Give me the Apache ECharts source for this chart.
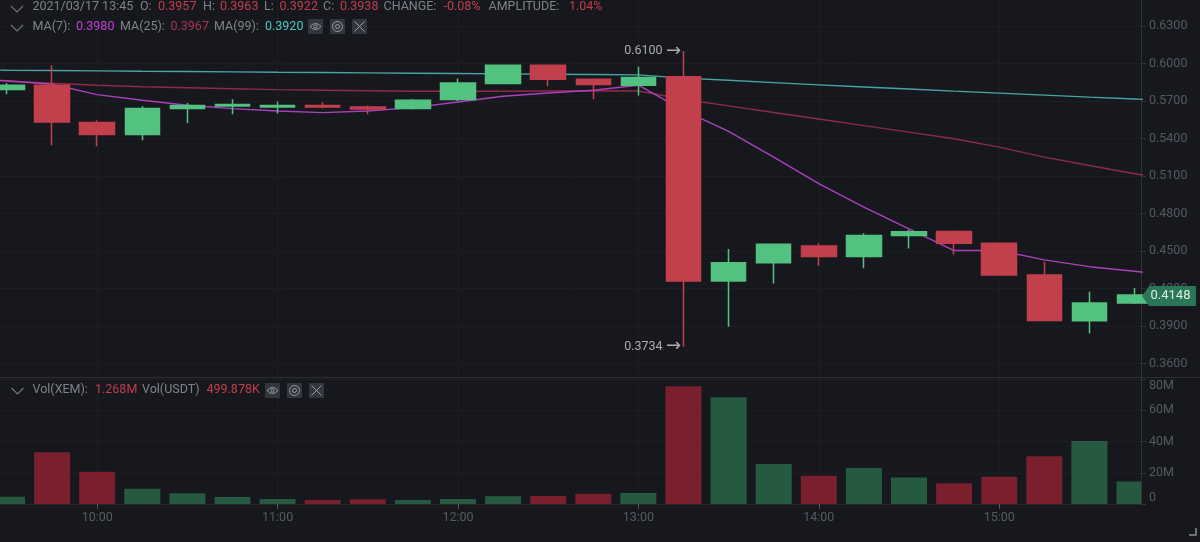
<!DOCTYPE html>
<html><head><meta charset="utf-8">
<style>html,body{margin:0;padding:0;background:#17181d}#c{width:1200px;height:542px}</style>
<script src="https://cdn.jsdelivr.net/npm/echarts@6/dist/echarts.min.js"></script>
</head><body><div id="c"></div>
<script>
const times = ['09:30','09:45','10:00','10:15','10:30','10:45','11:00','11:15','11:30','11:45','12:00','12:15','12:30','12:45','13:00','13:15','13:30','13:45','14:00','14:15','14:30','14:45','15:00','15:15','15:30','15:45'];
const opens  = [.5791,.5826,.5527,.5431,.5639,.5660,.5652,.5663,.5652,.5639,.5711,.5840,.5986,.5874,.5826,.5893,.4260,.4406,.4540,.4455,.4623,.4655,.4561,.4308,.3941,.4083];
const closes = [.5826,.5532,.5431,.5639,.5663,.5671,.5663,.5652,.5636,.5706,.5844,.5986,.5874,.5832,.5888,.4260,.4406,.4553,.4455,.4623,.4653,.4561,.4308,.3944,.4083,.4148];
const lows   = [.5754,.5345,.5337,.5385,.5524,.5593,.5599,.5639,.5593,.5631,.5700,.5834,.5818,.5714,.5743,.3734,.3893,.4240,.4380,.4361,.4519,.4471,.4302,.3944,.3839,.4075];
const highs  = [.5844,.5986,.5545,.5658,.5684,.5714,.5695,.5690,.5663,.5716,.5880,.5992,.5992,.5880,.5973,.6100,.4516,.4555,.4561,.4641,.4669,.4663,.4567,.4414,.4174,.4204];
const volumes = [4.7,33.1,20.6,9.7,6.9,4.5,3.2,2.6,3.0,2.6,3.2,4.9,5.2,6.5,7.1,75.3,68.4,25.6,18.1,23.0,17.0,13.3,17.4,30.5,40.4,14.4];
const maTimes = ['09:15'].concat(times, ['16:00']);
const ma7  = [.5882,.5862,.5834,.5751,.5706,.5666,.5639,.5620,.5607,.5620,.5647,.5692,.5738,.5764,.5786,.5826,.5625,.5457,.5251,.5038,.4850,.4677,.4503,.4503,.4428,.4374,.4337,.4294];
const ma25 = [.5870,.5858,.5842,.5826,.5814,.5806,.5798,.5791,.5786,.5782,.5778,.5778,.5778,.5780,.5782,.5780,.5714,.5661,.5608,.5556,.5503,.5451,.5398,.5331,.5251,.5184,.5118,.5064];
const ma99 = [.5950,.5946,.5944,.5941,.5938,.5936,.5933,.5930,.5928,.5925,.5922,.5920,.5917,.5914,.5912,.5909,.5883,.5866,.5847,.5829,.5812,.5796,.5779,.5763,.5747,.5731,.5716,.5698];
const priceMin = 0.36, priceMax = 0.63, priceStep = 0.03;
const volMax = 80, volStep = 20;
const lastPrice = 0.4148;
const headerText = [
  ['2021/03/17 13:45','O:','0.3957','H:','0.3963','L:','0.3922','C:','0.3938','CHANGE:','-0.08%','AMPLITUDE:','1.04%'],
  ['MA(7):','0.3980','MA(25):','0.3967','MA(99):','0.3920'],
  ['Vol(XEM):','1.268M','Vol(USDT)','499.878K']
];

const BG='#17181d', UP='#53c17f', DOWN='#c23f4c', VUP='#255a41', VDOWN='#7a1f2e',
      GRID='#1c1e23', AXIS='#303338', LABEL='#565a60', TXT='#7f8288', RED='#bf3f4e', FONT='Roboto, "Noto Sans", sans-serif', FS=12.5;
const ts = s => { const [h,m] = s.split(':').map(Number); return new Date(2021,2,17,h,m).getTime(); };
const xMin = ts('09:30') - 7/180.4*3600000, xMax = xMin + 1141/180.4*3600000;
const fmtHM = v => { const d=new Date(v); return d.getMinutes()===0 ? String(d.getHours()).padStart(2,'0')+':00' : ''; };

const xBase = {type:'time',min:xMin,max:xMax,minInterval:3600000,maxInterval:3600000,
  axisLine:{show:false},axisTick:{show:false},axisLabel:{show:false},splitLine:{show:false}};

const chart = echarts.init(document.getElementById('c'),null,{renderer:'canvas'});
const peak = times.indexOf('13:15');
const noteLabel = {show:true,position:'left',distance:2,
  formatter:p=>'{t|'+p.value+'} {a|→}',
  rich:{t:{color:'#a9abae',fontSize:FS,fontFamily:FONT},a:{color:'#a9abae',fontSize:18,fontFamily:'"DejaVu Sans"'}}};

chart.setOption({
  backgroundColor:BG, animation:false,
  grid:[
    {left:0,top:26,width:1141,height:337.4},
    {left:0,top:379,width:1141,height:125},
    {left:0,top:0,width:1141,height:504}
  ],
  xAxis:[
    Object.assign({},xBase,{gridIndex:0}),
    Object.assign({},xBase,{gridIndex:1,
      axisLine:{show:true,lineStyle:{color:'#26282d'}},
      axisTick:{show:true,length:5,lineStyle:{color:'#565a60'}},
      axisLabel:{show:true,color:LABEL,fontSize:FS,fontFamily:FONT,margin:7,formatter:fmtHM,showMinLabel:false,showMaxLabel:false}}),
    Object.assign({},xBase,{gridIndex:2,splitLine:{show:true,showMinLine:false,showMaxLine:false,lineStyle:{color:GRID}}})
  ],
  yAxis:[
    {type:'value',gridIndex:0,position:'right',min:priceMin,max:priceMax,interval:priceStep,
     axisLine:{show:false},axisTick:{show:true,length:5,lineStyle:{color:AXIS}},
     axisLabel:{color:LABEL,fontSize:FS,fontFamily:FONT,margin:8,padding:[2,0,0,0],formatter:v=>v.toFixed(4)},
     splitLine:{show:true,lineStyle:{color:GRID}}},
    {type:'value',gridIndex:1,position:'right',min:0,max:volMax,interval:volStep,
     axisLine:{show:false},axisTick:{show:true,length:5,lineStyle:{color:AXIS}},
     axisLabel:{color:LABEL,fontSize:FS,fontFamily:FONT,margin:8,verticalAlignMinLabel:'bottom',verticalAlignMaxLabel:'top',formatter:v=>v===0?'0':v+'M'},
     splitLine:{show:true,lineStyle:{color:GRID}}},
    {type:'value',gridIndex:2,position:'right',min:0,max:1,
     axisLine:{show:true,lineStyle:{color:AXIS}},axisTick:{show:false},axisLabel:{show:false},splitLine:{show:false}}
  ],
  series:[
    {type:'line',xAxisIndex:2,yAxisIndex:2,data:[],silent:true},
    {type:'line',name:'MA(99)',xAxisIndex:0,yAxisIndex:0,z:2,symbol:'none',lineStyle:{color:'#45a5a6',width:1.4},data:maTimes.map((t,i)=>[ts(t),ma99[i]])},
    {type:'line',name:'MA(25)',xAxisIndex:0,yAxisIndex:0,z:2,symbol:'none',lineStyle:{color:'#8e2a49',width:1.4},data:maTimes.map((t,i)=>[ts(t),ma25[i]])},
    {type:'line',name:'MA(7)',xAxisIndex:0,yAxisIndex:0,z:2,symbol:'none',lineStyle:{color:'#ac3fc0',width:1.4},data:maTimes.map((t,i)=>[ts(t),ma7[i]])},
    {type:'candlestick',xAxisIndex:0,yAxisIndex:0,z:3,barWidth:35,
     encode:{x:0,y:[1,2,3,4]},
     itemStyle:{color:UP,color0:DOWN,borderColor:UP,borderColor0:DOWN,borderWidth:1.5},
     data:times.map((t,i)=>[ts(t),opens[i],closes[i],lows[i],highs[i]]),
     markPoint:{symbol:'circle',symbolSize:1,itemStyle:{color:'transparent'},silent:true,label:noteLabel,
       data:[{coord:[ts(times[peak]),highs[peak]],value:highs[peak].toFixed(4)},
             {coord:[ts(times[peak]),lows[peak]],value:lows[peak].toFixed(4)}]}},
    {type:'custom',xAxisIndex:1,yAxisIndex:1,clip:true,silent:true,
     encode:{x:0,y:1},
     data:times.map((t,i)=>[ts(t),volumes[i],closes[i]>=opens[i]?1:0]),
     renderItem:(p,api)=>{
       const top=api.coord([api.value(0),api.value(1)]), base=api.coord([api.value(0),0]);
       const w=36;
       return {type:'rect',shape:{x:top[0]-w/2,y:top[1],width:w,height:base[1]-top[1]},style:{fill:api.value(2)?VUP:VDOWN}};
     }}
  ]
});

const tagY = chart.convertToPixel({yAxisIndex:0},lastPrice)+1;
const chev=(x,y)=>({type:'polyline',shape:{points:[[x,y],[x+6,y+6],[x+12,y]]},style:{stroke:'#70737a',fill:null,lineWidth:1.2}});
const box=(x,y,kind)=>{
  const ch=[{type:'rect',shape:{x:x,y:y,width:15,height:15},style:{fill:'#33363c'}}];
  const cx=x+7.5,cy=y+7.5,st={stroke:'#9a9da2',fill:null,lineWidth:1};
  if(kind==='eye'){ch.push(
    {type:'bezierCurve',shape:{x1:cx-5.5,y1:cy,x2:cx+5.5,y2:cy,cpx1:cx,cpy1:cy-6},style:st},
    {type:'bezierCurve',shape:{x1:cx-5.5,y1:cy,x2:cx+5.5,y2:cy,cpx1:cx,cpy1:cy+6},style:st},
    {type:'circle',shape:{cx,cy,r:1.6},style:st});}
  else if(kind==='ring'){ch.push({type:'circle',shape:{cx,cy,r:5},style:st},{type:'circle',shape:{cx,cy,r:2},style:st});}
  else {ch.push({type:'line',shape:{x1:cx-5,y1:cy-5,x2:cx+5,y2:cy+5},style:st},{type:'line',shape:{x1:cx-5,y1:cy+5,x2:cx+5,y2:cy-5},style:st});}
  return {type:'group',children:ch};
};
const headerX = [
  [32.5,140,158,203,220,264,279.5,323,340,383.5,443.5,488.5,569],
  [32.5,76,120,170.5,214,265],
  [32.5,95,142,206.5]
];
const headerY = [6.5,27,390];
const headerCol = [
  [TXT,TXT,RED,TXT,RED,TXT,RED,TXT,RED,TXT,RED,TXT,RED],
  [TXT,'#c440d4',TXT,'#a83350',TXT,'#4fc3c4'],
  [TXT,RED,TXT,RED]
];
const headerEls = [];
headerText.forEach((row,r)=>row.forEach((text,i)=>headerEls.push(
  {type:'text',z:15,style:{x:headerX[r][i],y:headerY[r],text,fill:headerCol[r][i],font:FS+'px '+FONT,align:'left',verticalAlign:'middle'}})));
chart.setOption({graphic:{elements:headerEls.concat([
  {type:'line',shape:{x1:0,y1:377.5,x2:1200,y2:377.5},style:{stroke:'#2c2e33',lineWidth:1},z:10},
  chev(11,6),chev(11,25),chev(11.5,388),
  box(308,19,'eye'),box(330,19,'ring'),box(352,19,'x'),
  box(265,383,'eye'),box(287,383,'ring'),box(309,383,'x'),
  {type:'polygon',z:20,shape:{points:[[1142,tagY],[1149,tagY-10],[1196,tagY-10],[1196,tagY+10],[1149,tagY+10]]},style:{fill:'#2a7656'}},
  {type:'text',z:21,style:{x:1170.5,y:tagY,text:lastPrice.toFixed(4),fill:'#dcefe5',font:'13px '+FONT,align:'center',verticalAlign:'middle'}},
  {type:'polyline',shape:{points:[[1196,528],[1196,535],[1189,535]]},style:{stroke:'#8a8d92',fill:null,lineWidth:1.5}}
])}});
</script></body></html>
